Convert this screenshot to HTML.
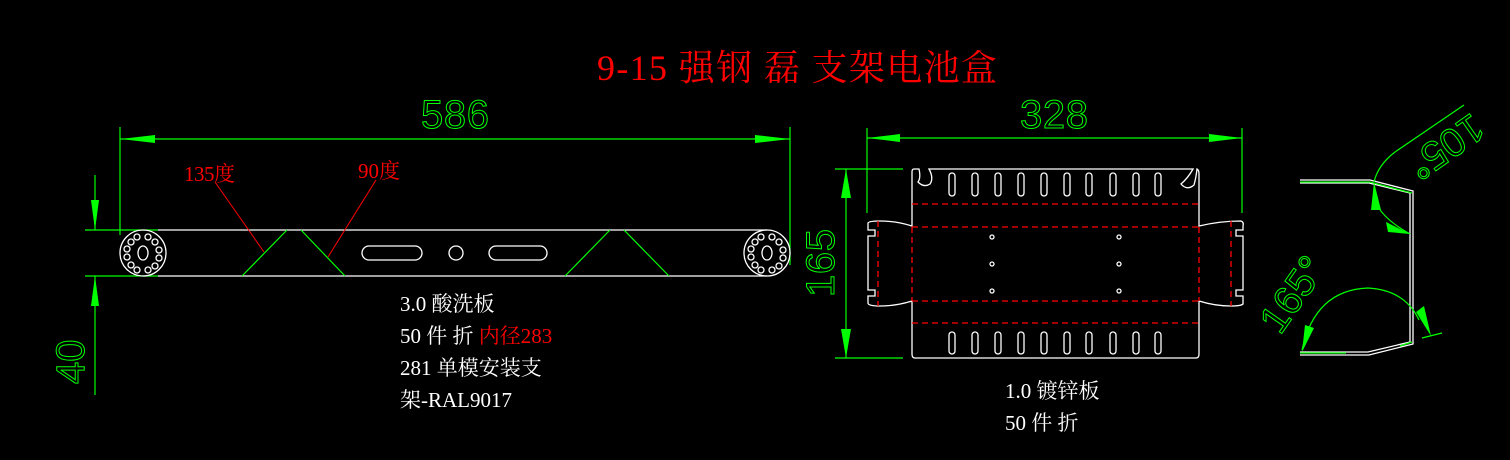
<!DOCTYPE html>
<html><head><meta charset="utf-8"><style>
html,body{margin:0;padding:0;background:#000;width:1510px;height:460px;overflow:hidden}
svg{display:block}
.w{stroke:#fff;fill:none;stroke-width:1.3}
.g{stroke:#0f0;fill:none;stroke-width:1.2}
.r{stroke:#f00;fill:none;stroke-width:1}
.rd{stroke:#f00;fill:none;stroke-width:1.3;stroke-dasharray:6,4}
.dim{font-family:"Liberation Sans",sans-serif;fill:none;stroke:#0f0;stroke-width:1;font-size:40px}
.t{font-family:"Liberation Serif","Noto Serif CJK SC",serif;fill:#fff;font-size:21px}
</style></head><body>
<svg width="1510" height="460" viewBox="0 0 1510 460" xmlns="http://www.w3.org/2000/svg">
<text x="597" y="80" font-family="Liberation Serif,'Noto Serif CJK SC',serif" font-size="36" fill="#f00" textLength="400">9-15 强钢 磊 支架电池盒</text>

<line class="g" x1="120" y1="139" x2="790" y2="139"/>
<line class="g" x1="120" y1="127" x2="120" y2="235"/>
<line class="g" x1="790" y1="127" x2="790" y2="265"/>
<polygon fill="#0f0" points="120,139 155,135 155,143"/>
<polygon fill="#0f0" points="790,139 755,135 755,143"/>
<text class="dim" x="421" y="128" font-size="36" textLength="68">586</text>

<line class="w" x1="158" y1="230" x2="767" y2="230"/>
<line class="w" x1="158" y1="276" x2="767" y2="276"/>
<line class="g" x1="85" y1="230" x2="158" y2="230"/>
<line class="g" x1="85" y1="276" x2="158" y2="276"/>
<circle class="w" cx="143" cy="253" r="23"/>
<circle class="w" cx="767" cy="253" r="23"/>
<g class="w" stroke-width="1">
<ellipse cx="143" cy="253" rx="5" ry="7"/>
<circle cx="131" cy="242" r="3"/><circle cx="137" cy="237" r="3"/><circle cx="148" cy="237" r="3"/><circle cx="155" cy="242" r="3"/><circle cx="159" cy="250" r="3"/><circle cx="159" cy="258" r="3"/><circle cx="155" cy="266" r="3"/><circle cx="148" cy="270" r="3"/><circle cx="137" cy="270" r="3"/><circle cx="131" cy="265" r="3"/><circle cx="127" cy="257" r="3"/><circle cx="127" cy="249" r="3"/>
<ellipse cx="767" cy="253" rx="5" ry="7"/>
<circle cx="755" cy="242" r="3"/><circle cx="761" cy="237" r="3"/><circle cx="772" cy="237" r="3"/><circle cx="779" cy="242" r="3"/><circle cx="783" cy="250" r="3"/><circle cx="783" cy="258" r="3"/><circle cx="779" cy="266" r="3"/><circle cx="772" cy="270" r="3"/><circle cx="761" cy="270" r="3"/><circle cx="755" cy="265" r="3"/><circle cx="751" cy="257" r="3"/><circle cx="751" cy="249" r="3"/>
</g>
<line class="g" x1="242" y1="276" x2="287" y2="230"/>
<line class="g" x1="301" y1="230" x2="345" y2="276"/>
<line class="g" x1="565" y1="276" x2="610" y2="230"/>
<line class="g" x1="624" y1="230" x2="669" y2="276"/>
<rect class="w" x="362" y="246" width="60" height="14" rx="7"/>
<ellipse class="w" cx="456" cy="253" rx="7" ry="7"/>
<rect class="w" x="489" y="246" width="58" height="14" rx="7"/>
<line class="r" x1="215" y1="182" x2="264" y2="252"/>
<line class="r" x1="376" y1="180" x2="328" y2="257"/>
<text x="184" y="181" font-family="Liberation Serif,'Noto Serif CJK SC',serif" font-size="21" fill="#f00" textLength="51">135度</text>
<text x="358" y="178" font-family="Liberation Serif,'Noto Serif CJK SC',serif" font-size="21" fill="#f00">90度</text>

<line class="g" x1="95" y1="175" x2="95" y2="230"/>
<line class="g" x1="95" y1="276" x2="95" y2="395"/>
<polygon fill="#0f0" points="95,230 91,200 99,200"/>
<polygon fill="#0f0" points="95,276 91,306 99,306"/>
<text class="dim" transform="translate(84,384) rotate(-90)" font-size="34">40</text>

<text class="t" x="400" y="311">3.0 酸洗板</text>
<text class="t" x="400" y="343">50 件 折 <tspan fill="#f00">内径283</tspan></text>
<text class="t" x="400" y="375">281 单模安装支</text>
<text class="t" x="400" y="407">架-RAL9017</text>

<line class="g" x1="867" y1="138" x2="1242" y2="138"/>
<line class="g" x1="867" y1="128" x2="867" y2="213"/>
<line class="g" x1="1242" y1="128" x2="1242" y2="213"/>
<polygon fill="#0f0" points="867,138 900,134 900,142"/>
<polygon fill="#0f0" points="1242,138 1209,134 1209,142"/>
<text class="dim" x="1020" y="128" font-size="36" textLength="68">328</text>

<line class="g" x1="846" y1="169" x2="846" y2="358"/>
<line class="g" x1="835" y1="169" x2="903" y2="169"/>
<line class="g" x1="835" y1="358" x2="903" y2="358"/>
<polygon fill="#0f0" points="846,169 841,198 851,198"/>
<polygon fill="#0f0" points="846,358 841,329 851,329"/>
<text class="dim" transform="translate(834,297) rotate(-90)" font-size="36" textLength="68">165</text>

<path class="w" d="M914,169 L919,169 Q921,178 918,182 Q924,188 930,184 Q934,178 929,169 L1193,169 Q1188,178 1181,184 Q1187,191 1194,185 Q1196,178 1197,169 Q1199,170 1199,174 L1199,226 Q1220,221 1241,221 Q1244,222 1243,226 L1243,230 L1236,230 L1236,236 L1243,236 L1243,290 L1236,290 L1236,296 L1243,296 L1243,304 Q1241,306 1231,306 Q1215,306 1199,301 L1199,354 Q1199,358 1196,358 L915,358 Q912,358 912,354 L912,301 Q896,306 880,306 Q868,306 868,303 L868,296 L875,296 L875,290 L868,290 L868,236 L875,236 L875,230 L868,230 L868,223 Q869,221 880,221 Q896,221 912,226 L912,172 Q912,169 914,169 Z"/>
<line class="rd" x1="912" y1="204" x2="1199" y2="204"/>
<line class="rd" x1="912" y1="227" x2="1199" y2="227"/>
<line class="rd" x1="912" y1="301" x2="1199" y2="301"/>
<line class="rd" x1="912" y1="323" x2="1199" y2="323"/>
<line class="rd" x1="878" y1="221" x2="878" y2="306"/>
<line class="rd" x1="1231" y1="221" x2="1231" y2="306"/>
<line class="rd" x1="912" y1="227" x2="912" y2="301"/>
<line class="rd" x1="1199" y1="227" x2="1199" y2="301"/>
<g class="w" stroke-width="1.2">
<rect x="949" y="173" width="6" height="23" rx="3"/><rect x="972" y="173" width="6" height="23" rx="3"/><rect x="995" y="173" width="6" height="23" rx="3"/><rect x="1018" y="173" width="6" height="23" rx="3"/><rect x="1041" y="173" width="6" height="23" rx="3"/><rect x="1064" y="173" width="6" height="23" rx="3"/><rect x="1086" y="173" width="6" height="23" rx="3"/><rect x="1110" y="173" width="6" height="23" rx="3"/><rect x="1133" y="173" width="6" height="23" rx="3"/><rect x="1155" y="173" width="6" height="23" rx="3"/>
<rect x="949" y="332" width="6" height="22" rx="3"/><rect x="972" y="332" width="6" height="22" rx="3"/><rect x="995" y="332" width="6" height="22" rx="3"/><rect x="1018" y="332" width="6" height="22" rx="3"/><rect x="1041" y="332" width="6" height="22" rx="3"/><rect x="1064" y="332" width="6" height="22" rx="3"/><rect x="1086" y="332" width="6" height="22" rx="3"/><rect x="1110" y="332" width="6" height="22" rx="3"/><rect x="1133" y="332" width="6" height="22" rx="3"/><rect x="1155" y="332" width="6" height="22" rx="3"/>
<circle cx="992" cy="237" r="2"/><circle cx="992" cy="264" r="2"/><circle cx="992" cy="291" r="2"/>
<circle cx="1119" cy="237" r="2"/><circle cx="1119" cy="264" r="2"/><circle cx="1119" cy="291" r="2"/>
</g>
<text class="t" x="1005" y="398">1.0 镀锌板</text>
<text class="t" x="1005" y="430">50 件 折</text>

<path class="w" d="M1300,180 L1370,180 L1413,191 L1413,344 L1369,355 L1300,355"/>
<path class="w" d="M1300,183 L1369,183 L1410,193 L1410,342 L1368,352 L1300,352" stroke-width="1"/>
<line class="g" x1="1300" y1="182" x2="1370" y2="182"/>
<line class="g" x1="1370" y1="182" x2="1412" y2="193"/>
<line class="g" x1="1300" y1="353" x2="1346" y2="353"/>
<line class="g" x1="1400" y1="346" x2="1412" y2="342"/>
<path class="g" d="M1374,182 Q1378,165 1395,152 L1464,105"/>
<path class="g" d="M1377,205 Q1385,220 1410,234"/>
<polygon fill="#0f0" points="1374,182 1371,210 1381,210"/>
<polygon fill="#0f0" points="1410,234 1386,222 1388,232"/>
<path class="g" d="M1302,350 Q1315,290 1368,288 Q1405,290 1419,320"/>
<polygon fill="#0f0" points="1302,352 1305,325 1314,328"/>
<polygon fill="#0f0" points="1431,336 1416,312 1424,306"/>
<line class="g" x1="1422" y1="338" x2="1442" y2="333"/>
<text class="dim" transform="translate(1472,112) rotate(145)" font-size="32">105°</text>
<text class="dim" transform="translate(1280,336) rotate(-55)" font-size="30">165°</text>
</svg>
</body></html>
